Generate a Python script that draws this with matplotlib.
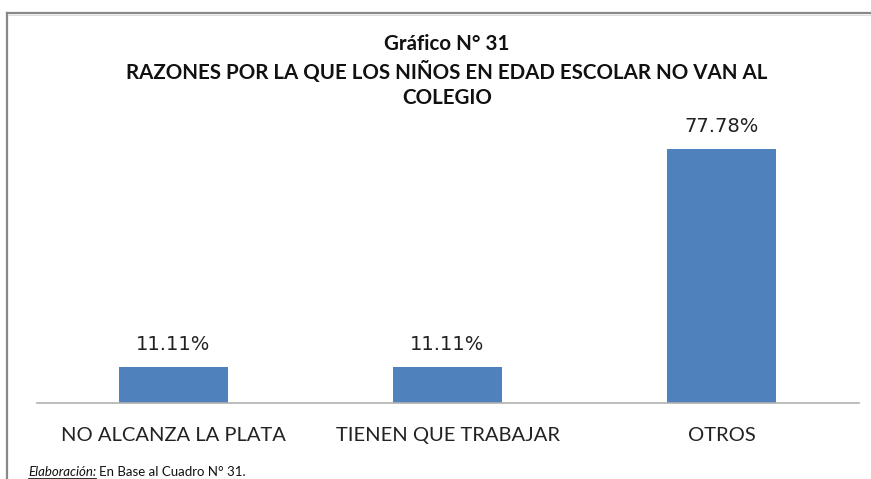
import matplotlib
matplotlib.use("Agg")
import matplotlib.pyplot as plt
from matplotlib.lines import Line2D

categories = ["NO ALCANZA LA PLATA", "TIENEN QUE TRABAJAR", "OTROS"]
values = [11.11, 11.11, 77.78]
value_labels = ["11.11%", "11.11%", "77.78%"]
title_lines = ["Gráfico N° 31", "RAZONES POR LA QUE LOS NIÑOS EN EDAD ESCOLAR NO VAN AL", "COLEGIO"]

W, H = 871, 479
fig = plt.figure(figsize=(W / 100, H / 100), dpi=100)
fig.patch.set_facecolor("white")

def fx(x): return x / W
def fy(y): return 1 - y / H

ax_left, ax_right, ax_base, ax_top = 36.5, 858.5, 403, 130
ax = fig.add_axes([fx(ax_left), fy(ax_base), (ax_right - ax_left) / W, (ax_base - ax_top) / H])
xs = list(range(len(categories)))
ax.bar(xs, values, width=0.4, color="#4F81BD", zorder=2)
ax.set_xlim(-0.5, 2.5)
ax.set_ylim(0, 77.78 * (ax_base - ax_top) / (ax_base - 149))
for s in ["top", "right", "left"]:
    ax.spines[s].set_visible(False)
ax.spines["bottom"].set_color("#B0B0B0")
ax.spines["bottom"].set_linewidth(1.2)
ax.set_yticks([])
ax.set_xticks(xs)
ax.set_xticklabels(categories, fontsize=14.5, family="Lato", color="#222222")
ax.tick_params(axis="x", length=0, pad=17)
for x, v, lab in zip(xs, values, value_labels):
    ax.annotate(lab, (x, v), xytext=(0, 9), textcoords="offset points",
                ha="center", va="bottom", fontsize=14, family="DejaVu Sans", color="#222222")

# titles
ys = [44, 72, 98]
for t, y in zip(title_lines, ys):
    fig.text(fx(447), fy(y), t, ha="center", va="center", fontsize=14.8,
             fontweight="bold", family="Lato", color="#111111")

# border frame
fig.add_artist(Line2D([fx(7), fx(871)], [fy(13), fy(13)], color="#888888", lw=1.6))
fig.add_artist(Line2D([fx(7), fx(7)], [fy(13), fy(479)], color="#888888", lw=1.6))
fig.add_artist(Line2D([fx(8), fx(871)], [fy(15), fy(15)], color="#DDDDDD", lw=0.8))

# footnote
t1 = fig.text(fx(28), fy(472), "Elaboración:", ha="left", va="center", fontsize=9.5,
              style="italic", family="Lato", color="#111111")
fig.canvas.draw()
bb = t1.get_window_extent()
fig.add_artist(Line2D([bb.x0 / W, bb.x1 / W], [bb.y0 / H, bb.y0 / H], color="#111111", lw=0.6))
fig.text(bb.x1 / W + 3 / W, fy(472), "En Base al Cuadro N° 31.", ha="left", va="center",
         fontsize=9.5, family="Lato", color="#111111")

fig.savefig("out.png", dpi=100)
